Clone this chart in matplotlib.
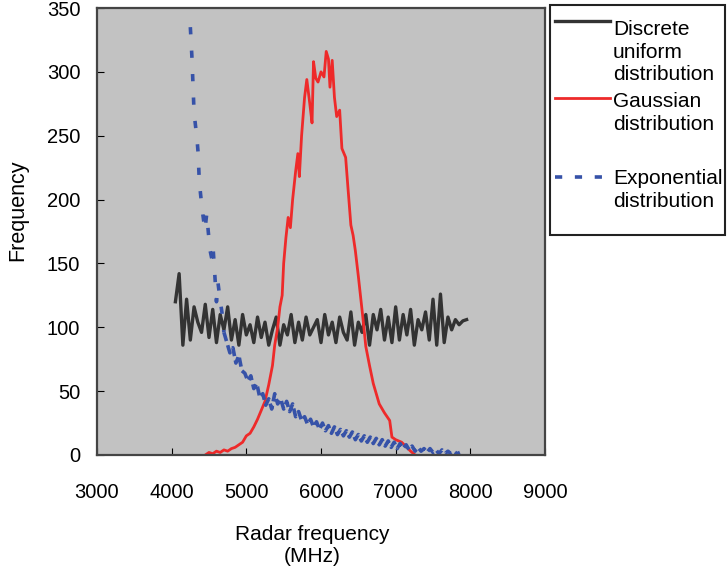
import matplotlib
matplotlib.use("Agg")
import matplotlib.pyplot as plt
from matplotlib.lines import Line2D
from matplotlib.patches import Rectangle

plt.rcParams['font.family'] = ['Liberation Sans', 'DejaVu Sans']

# discrete uniform distribution, bins every 50 MHz from 4050 to 7950
uniform_x = list(range(4050, 8000, 50))
uniform_y = [120, 142, 86, 122, 90, 116, 104, 96, 118, 92,
             114, 88, 110, 98, 116, 90, 106, 86, 110, 94,
             102, 88, 108, 92, 104, 86, 98, 108, 86, 102,
             94, 110, 88, 104, 90, 108, 94, 100, 106, 88,
             110, 94, 104, 88, 108, 96, 90, 112, 86, 104,
             96, 110, 86, 110, 98, 114, 90, 108, 88, 116,
             90, 110, 94, 114, 86, 106, 98, 112, 90, 122,
             86, 126, 88, 108, 98, 106, 102, 105, 106]

# gaussian distribution
gauss_x = [4450, 4500, 4550, 4600, 4650, 4700, 4750, 4800, 4850, 4900,
           4950, 5000, 5050, 5100, 5150, 5200, 5250, 5300, 5350, 5380,
           5420, 5450, 5480, 5500, 5530, 5560, 5590, 5620, 5660, 5690,
           5710, 5740, 5780, 5810, 5850, 5880, 5900, 5930, 5960, 6000,
           6040, 6070, 6100, 6120, 6150, 6180, 6210, 6250, 6280, 6330,
           6360, 6400, 6430, 6460, 6500, 6560, 6600, 6650, 6700, 6780,
           6850, 6920, 6950, 7000, 7080, 7150, 7200, 7260]
gauss_y = [0, 2, 1, 3, 2, 4, 3, 5, 6, 8,
           10, 15, 17, 22, 28, 35, 42, 55, 70, 86,
           100, 116, 125, 150, 170, 186, 178, 200, 222, 236,
           218, 250, 280, 294, 275, 260, 308, 295, 292, 300,
           296, 316, 310, 288, 309, 280, 265, 270, 240, 233,
           210, 180, 172, 160, 140, 108, 85, 70, 56, 40,
           33, 27, 14, 12, 10, 6, 3, 0]

# exponential distribution: steep head, then noisy tail every 40 MHz
expo_head_x = [4250, 4270, 4285, 4300, 4340, 4355, 4370, 4405, 4445, 4470,
               4490, 4515, 4540, 4555, 4580, 4600, 4620, 4650, 4675, 4700]
expo_head_y = [335, 313, 291, 268, 247, 236, 214, 194, 176, 189,
               175, 160, 153, 162, 139, 120, 135, 121, 111, 96]
expo_tail_x = list(range(4700, 7861, 40))
expo_tail_y = [96, 88, 80, 84, 72, 78, 66, 64, 58, 62,
               52, 56, 45, 48, 39, 44, 36, 48, 40, 44,
               36, 42, 34, 40, 30, 34, 27, 30, 24, 28,
               22, 26, 20, 25, 19, 23, 17, 22, 16, 20,
               15, 19, 14, 18, 12, 16, 11, 15, 10, 14,
               9, 13, 8, 12, 7, 11, 6, 10, 5, 9,
               5, 8, 4, 7, 3, 6, 3, 5, 2, 5,
               2, 4, 1, 4, 1, 3, 1, 3, 1, 2]

x_ticks = [3000, 4000, 5000, 6000, 7000, 8000, 9000]
y_ticks = [0, 50, 100, 150, 200, 250, 300, 350]

fig = plt.figure(figsize=(7.28, 5.72), dpi=100)
ax = fig.add_axes([97 / 728, 1 - 455 / 572, 448 / 728, 447 / 572])
ax.set_facecolor('#c2c2c2')

ax.plot(uniform_x, uniform_y, color='#333333', lw=2.4)
ax.plot(gauss_x, gauss_y, color='#ee2a2a', lw=2.0)
# the noisy tail reads almost solid in the original, the head is sparse dashes
ax.plot(expo_head_x, expo_head_y, color='#3652a8', lw=2.6, dashes=(2, 4.5))
ax.plot(expo_tail_x, expo_tail_y, color='#3652a8', lw=2.6, dashes=(2.5, 1.2))

ax.set_xlim(3000, 9000)
ax.set_ylim(0, 350)
ax.set_xticks(x_ticks)
ax.set_yticks(y_ticks)
ax.tick_params(axis='x', direction='in', length=5, pad=20, labelsize=14.5)
ax.tick_params(axis='y', direction='in', length=5, pad=12, labelsize=14.5)
for s in ax.spines.values():
    s.set_linewidth(1.6)
    s.set_color('#444444')

fig.text(18 / 728, 1 - 210 / 572, 'Frequency', rotation=90,
         ha='center', va='center', fontsize=15.5)
fig.text(312 / 728, 1 - 545 / 572, 'Radar frequency\n(MHz)',
         ha='center', va='center', fontsize=15, linespacing=1.2)

# legend box, handles sit on the first text line
fig.add_artist(Rectangle((550 / 728, 1 - 235 / 572), 175 / 728, 230 / 572,
                         transform=fig.transFigure, fill=False,
                         edgecolor='#222222', lw=1.5))
entries = [
    ('#333333', None, 2.4, 21, 20, 'Discrete\nuniform\ndistribution'),
    ('#ee2a2a', None, 2.0, 98, 92, 'Gaussian\ndistribution'),
    ('#3652a8', (2, 3.5), 2.6, 177, 169, 'Exponential\ndistribution'),
]
for color, dash, lw, ly, ty, label in entries:
    ln = Line2D([555 / 728, 610 / 728], [1 - ly / 572, 1 - ly / 572],
                transform=fig.transFigure, color=color, lw=lw)
    if dash:
        ln.set_dashes(dash)
    fig.add_artist(ln)
    fig.text(613 / 728, 1 - ty / 572, label, ha='left', va='top',
             fontsize=15, linespacing=1.25)

fig.savefig('out.png', dpi=100)
